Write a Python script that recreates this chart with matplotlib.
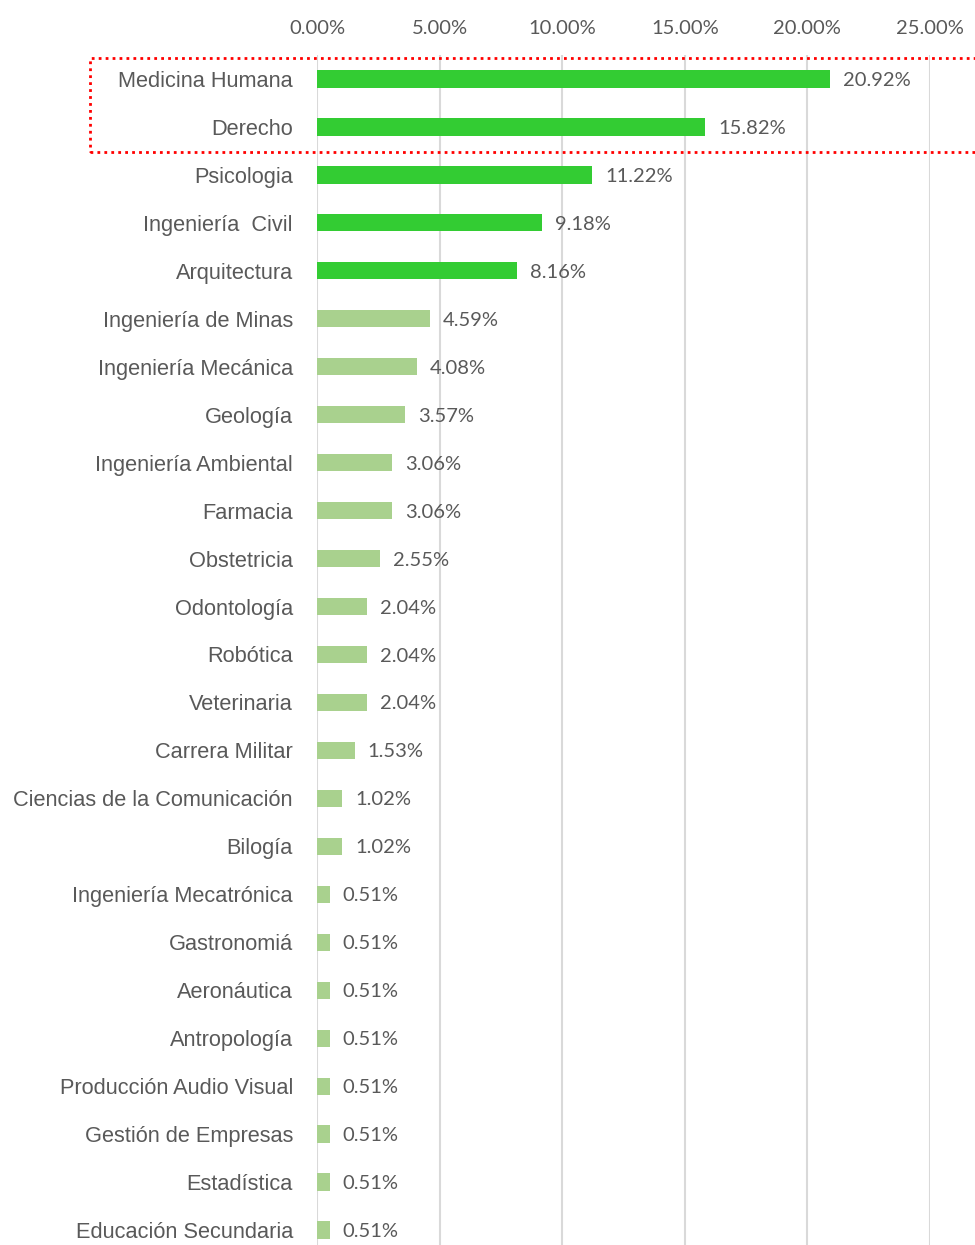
import matplotlib
matplotlib.use("Agg")
import matplotlib.pyplot as plt
from matplotlib.patches import Rectangle
from matplotlib.ticker import FuncFormatter

# carreras y porcentajes
carreras = ["Medicina Humana", "Derecho", "Psicologia", "Ingeniería  Civil",
            "Arquitectura", "Ingeniería de Minas", "Ingeniería Mecánica",
            "Geología", "Ingeniería Ambiental", "Farmacia", "Obstetricia",
            "Odontología", "Robótica", "Veterinaria", "Carrera Militar",
            "Ciencias de la Comunicación", "Bilogía", "Ingeniería Mecatrónica",
            "Gastronomiá", "Aeronáutica", "Antropología",
            "Producción Audio Visual", "Gestión de Empresas", "Estadística",
            "Educación Secundaria"]
porcentajes = [20.92, 15.82, 11.22, 9.18, 8.16, 4.59, 4.08, 3.57, 3.06, 3.06,
               2.55, 2.04, 2.04, 2.04, 1.53, 1.02, 1.02, 0.51, 0.51, 0.51,
               0.51, 0.51, 0.51, 0.51, 0.51]
n_destacadas = 5
ticks = [0, 5, 10, 15, 20, 25]

gris = "#595959"
verde = "#33CC33"
verde_claro = "#A9D18E"
fuente_num = ["Lato", "DejaVu Sans"]
fuente_cat = ["Liberation Sans", "DejaVu Sans"]

W, H = 975, 1245
fig = plt.figure(figsize=(W / 100, H / 100), dpi=100)
# area del grafico en pixeles (la parte de abajo queda cortada)
x0, x1 = 317, 930
y_top, y_bot = 55, 1254
ax = fig.add_axes([x0 / W, (H - y_bot) / H, (x1 - x0) / W, (y_bot - y_top) / H])

colores = [verde if i < n_destacadas else verde_claro for i in range(len(carreras))]
pos = list(range(len(carreras)))
ax.barh(pos, porcentajes, height=0.36, color=colores, zorder=3)
ax.set_ylim(len(carreras) - 0.5, -0.5)
ax.set_xlim(0, 25)

for p, v in zip(pos, porcentajes):
    ax.annotate("%.2f%%" % v, (v, p), xytext=(9.5, 0), textcoords="offset points",
                va="center_baseline", ha="left", fontsize=14.5, color=gris,
                family=fuente_num, zorder=4)

ax.set_yticks(pos)
ax.set_yticklabels(carreras, fontsize=15.7, color=gris, family=fuente_cat)
ax.tick_params(axis="y", length=0, pad=17.3)

ax.xaxis.tick_top()
ax.set_xticks(ticks)
ax.xaxis.set_major_formatter(FuncFormatter(lambda x, _: "%.2f%%" % x))
for t in ax.get_xticklabels():
    t.set_family(fuente_num)
ax.tick_params(axis="x", length=0, labelsize=14.5, labelcolor=gris, pad=13)

ax.grid(axis="x", color="#D9D9D9", linewidth=1.5, zorder=0)
for s in ax.spines.values():
    s.set_visible(False)

# recuadro punteado rojo
fig.patches.append(Rectangle((90 / W, (H - 152) / H), (990 - 90) / W, 94 / H,
                             transform=fig.transFigure, fill=False,
                             edgecolor="red", linestyle=(0, (1, 1.5)),
                             linewidth=2, zorder=5))

fig.savefig("out.png", dpi=100)
